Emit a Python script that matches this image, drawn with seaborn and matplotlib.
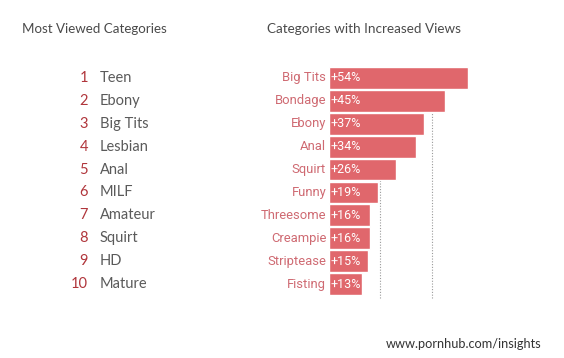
import numpy as np
import pandas as pd
import matplotlib
matplotlib.use("Agg")
import matplotlib.pyplot as plt
import matplotlib.transforms as mtransforms
import seaborn as sns

# --- data ---
rank = [1, 2, 3, 4, 5, 6, 7, 8, 9, 10]
most_viewed = ["Teen", "Ebony", "Big Tits", "Lesbian", "Anal",
               "MILF", "Amateur", "Squirt", "HD", "Mature"]
increased = ["Big Tits", "Bondage", "Ebony", "Anal", "Squirt",
             "Funny", "Threesome", "Creampie", "Striptease", "Fisting"]
increase_pct = [54, 45, 37, 34, 26, 19, 16, 16, 15, 13]

BAR = "#e0676c"
LABEL = "#cf6a72"
RANK = "#b0353b"
NAME = "#5a5a5a"

sns.set_theme(style="white")
plt.rcParams["font.family"] = ["Lato", "DejaVu Sans"]
narrow = ["Roboto", "DejaVu Sans"]

W, H = 564, 358
fig = plt.figure(figsize=(W / 100, H / 100), dpi=100)
fig.patch.set_facecolor("white")

# bar axes: 0% at x=329px, ~2.57px per percent
x0, scale = 329, 2.57
ax = fig.add_axes([x0 / W, 1 - 295.5 / H, 60 * scale / W, 229 / H])
df = pd.DataFrame({"cat": increased, "pct": increase_pct})
sns.barplot(data=df, y="cat", x="pct", orient="h", color=BAR,
            saturation=1, width=0.95, ax=ax, zorder=3)
ax.set_xlim(0, 60)
ax.set_ylim(9.5, -0.5)
for g in (20, 40):
    ax.axvline(g, ymin=-0.01, ymax=1, color="#9a9a9a", lw=0.8,
               ls=(0, (1, 1.5)), zorder=1, clip_on=False)
for i, (c, v) in enumerate(zip(increased, increase_pct)):
    ax.text(-1.1, i, c, ha="right", va="center", color=LABEL,
            fontsize=9.4, family=narrow)
    ax.text(0.6, i, f"+{v}%", ha="left", va="center", color="white",
            fontsize=9, family=narrow, zorder=4)
ax.set_axis_off()

# left ranked list, aligned to the same rows
trans = mtransforms.blended_transform_factory(fig.transFigure, ax.transData)
for i, (r, n) in enumerate(zip(rank, most_viewed)):
    fig.text(88 / W, i, str(r), transform=trans, ha="right", va="center",
             color=RANK, fontsize=10.5)
    fig.text(100 / W, i, n, transform=trans, ha="left", va="center",
             color=NAME, fontsize=10.5)

fig.text(22 / W, 1 - 29 / H, "Most Viewed Categories", ha="left",
         va="center", color="#4a4a4a", fontsize=9.6)
fig.text(267 / W, 1 - 29 / H, "Categories with Increased Views", ha="left",
         va="center", color="#4a4a4a", fontsize=9.7)
fig.text(541 / W, 1 - 344 / H, "www.pornhub.com/insights", ha="right",
         va="center", color="#333333", fontsize=9.2)

fig.savefig("out.png", dpi=100, facecolor="white")
